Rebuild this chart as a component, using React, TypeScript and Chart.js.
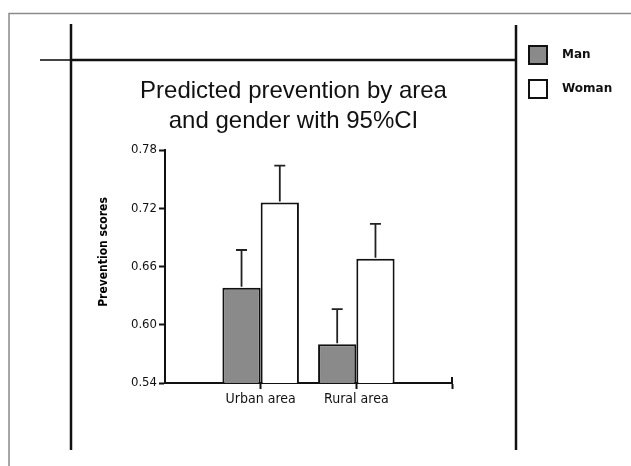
import React, { useEffect, useRef } from 'react';
import { Chart, registerables } from 'chart.js';

Chart.register(...registerables);

// ---- data ----
const categories = ['', 'Urban area', 'Rural area', ''];
const seriesNames = ['Man', 'Woman'];
const manValues = [null, 0.638, 0.58, null];
const womanValues = [null, 0.726, 0.668, null];
const manUpperCI = [null, 0.677, 0.616, null];
const womanUpperCI = [null, 0.764, 0.704, null];
const yTickValues = [0.54, 0.6, 0.66, 0.72, 0.78];
const titleLines = ['Predicted prevention by area', 'and gender with 95%CI'];
const yAxisTitle = 'Prevention scores';

const NARROW = "'DejaVu Sans Condensed', 'Liberation Sans Narrow', sans-serif";
const SANS = "'Liberation Sans', Arial, sans-serif";
const INK = '#111111';
const MAN_FILL = '#8a8a8a';
const WOMAN_FILL = '#ffffff';

const decorPlugin = {
  id: 'decor',
  beforeDraw(chart: any) {
    const ctx = chart.ctx;
    ctx.save();
    ctx.fillStyle = '#ffffff';
    ctx.fillRect(0, 0, chart.width, chart.height);
    // outer gray border (top + left)
    ctx.strokeStyle = '#8a8a8a';
    ctx.lineWidth = 1.5;
    ctx.beginPath();
    ctx.moveTo(9, chart.height);
    ctx.lineTo(9, 13.5);
    ctx.lineTo(chart.width, 13.5);
    ctx.stroke();
    // frame
    ctx.strokeStyle = '#444';
    ctx.lineWidth = 2;
    ctx.beginPath();
    ctx.moveTo(40, 60);
    ctx.lineTo(71, 60);
    ctx.stroke();
    ctx.strokeStyle = INK;
    ctx.lineWidth = 2.5;
    ctx.beginPath();
    ctx.moveTo(71, 60);
    ctx.lineTo(516, 60);
    ctx.stroke();
    ctx.beginPath();
    ctx.moveTo(71, 24);
    ctx.lineTo(71, 450);
    ctx.stroke();
    ctx.beginPath();
    ctx.moveTo(516, 25);
    ctx.lineTo(516, 450);
    ctx.stroke();
    ctx.restore();
  },
  afterDatasetsDraw(chart: any) {
    const ctx = chart.ctx;
    const yScale = chart.scales.y;
    ctx.save();
    ctx.strokeStyle = '#222';
    ctx.lineWidth = 1.8;
    chart.data.datasets.forEach((ds: any, i: number) => {
      const meta = chart.getDatasetMeta(i);
      meta.data.forEach((el: any, j: number) => {
        const up = ds.errorUpper[j];
        const v = ds.data[j];
        if (up == null || v == null) return;
        const yUp = yScale.getPixelForValue(up);
        ctx.beginPath();
        ctx.moveTo(el.x, el.y - 1);
        ctx.lineTo(el.x, yUp);
        ctx.moveTo(el.x - 5.5, yUp);
        ctx.lineTo(el.x + 5.5, yUp);
        ctx.stroke();
      });
    });
    ctx.restore();
  },
  afterDraw(chart: any) {
    const ctx = chart.ctx;
    const area = chart.chartArea;
    ctx.save();
    // end tick of x axis (extends above the axis)
    ctx.strokeStyle = INK;
    ctx.lineWidth = 2;
    ctx.beginPath();
    ctx.moveTo(area.right, area.bottom - 6);
    ctx.lineTo(area.right, area.bottom);
    ctx.stroke();
    // title
    ctx.fillStyle = '#111';
    ctx.font = `24px ${SANS}`;
    ctx.textAlign = 'center';
    ctx.textBaseline = 'middle';
    titleLines.forEach((line, k) => {
      ctx.fillText(line, 293.5, 91 + k * 30);
    });
    // y-axis title
    ctx.save();
    ctx.translate(104, 252);
    ctx.rotate(-Math.PI / 2);
    ctx.font = `bold 12px ${NARROW}`;
    ctx.fillStyle = '#000';
    ctx.fillText(yAxisTitle, 0, 0);
    ctx.restore();
    // legend
    chart.data.datasets.forEach((ds: any, i: number) => {
      const top = 46 + i * 34;
      ctx.fillStyle = ds.backgroundColor;
      ctx.fillRect(529, top, 18, 18);
      ctx.strokeStyle = INK;
      ctx.lineWidth = 2;
      ctx.strokeRect(529, top, 18, 18);
      ctx.fillStyle = '#111';
      ctx.font = `bold 12px 'DejaVu Sans', sans-serif`;
      ctx.textAlign = 'left';
      ctx.textBaseline = 'middle';
      ctx.fillText(ds.label, 562, top + 9);
    });
    ctx.restore();
  },
};

export default function App() {
  const canvasRef = useRef<HTMLCanvasElement | null>(null);

  useEffect(() => {
    if (!canvasRef.current) return;
    const chart = new Chart(canvasRef.current, {
      type: 'bar',
      data: {
        labels: categories,
        datasets: [
          {
            label: seriesNames[0],
            data: manValues,
            errorUpper: manUpperCI,
            backgroundColor: MAN_FILL,
            borderColor: INK,
            borderWidth: 2,
            categoryPercentage: 0.8,
            barPercentage: 1.0,
          } as any,
          {
            label: seriesNames[1],
            data: womanValues,
            errorUpper: womanUpperCI,
            backgroundColor: WOMAN_FILL,
            borderColor: INK,
            borderWidth: 2,
            categoryPercentage: 0.8,
            barPercentage: 1.0,
          } as any,
        ],
      },
      options: {
        animation: false,
        responsive: false,
        layout: { padding: { left: 125, right: 179, top: 150, bottom: 53 } },
        plugins: {
          legend: { display: false },
          tooltip: { enabled: false },
          title: { display: false },
        },
        scales: {
          x: {
            type: 'category',
            offset: false,
            grid: {
              display: true,
              offset: false,
              drawOnChartArea: false,
              drawTicks: true,
              tickLength: 6,
              tickWidth: 2,
              color: (c: any) => (c.index === 0 ? 'rgba(0,0,0,0)' : INK),
            },
            border: { display: true, color: INK, width: 2 },
            ticks: {
              font: { family: NARROW, size: 14 },
              color: '#111',
              padding: 2,
              autoSkip: false,
              maxRotation: 0,
            },
            afterFit: (s: any) => {
              s.height = 30;
            },
          },
          y: {
            min: 0.54,
            max: 0.78,
            afterBuildTicks: (s: any) => {
              s.ticks = yTickValues.map((v) => ({ value: v }));
            },
            grid: {
              drawOnChartArea: false,
              drawTicks: true,
              tickLength: 6,
              tickWidth: 2,
              color: INK,
            },
            border: { display: true, color: INK, width: 2 },
            ticks: {
              font: { family: NARROW, size: 13 },
              color: '#111',
              padding: 2,
              callback: (v: any) => Number(v).toFixed(2),
            },
            afterFit: (s: any) => {
              s.width = 40;
            },
          },
        },
      } as any,
      plugins: [decorPlugin],
    });
    return () => chart.destroy();
  }, []);

  return (
    <div style={{ position: 'absolute', left: 0, top: 0, width: 631, height: 466 }}>
      <canvas ref={canvasRef} width={631} height={466} style={{ display: 'block' }} />
    </div>
  );
}
